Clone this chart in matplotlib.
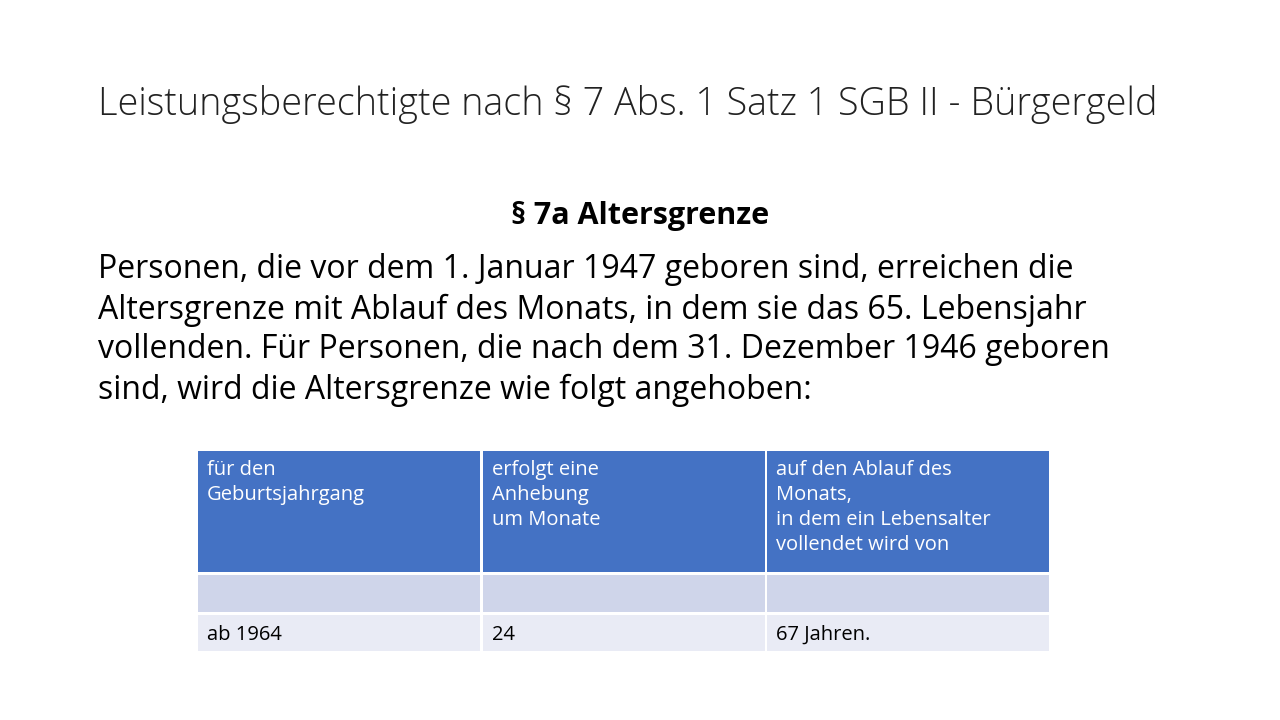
import matplotlib.pyplot as plt
from matplotlib.patches import Rectangle

title = "Leistungsberechtigte nach § 7 Abs. 1 Satz 1 SGB II - Bürgergeld"
subtitle = "§ 7a Altersgrenze"
body = ["Personen, die vor dem 1. Januar 1947 geboren sind, erreichen die",
        "Altersgrenze mit Ablauf des Monats, in dem sie das 65. Lebensjahr",
        "vollenden. Für Personen, die nach dem 31. Dezember 1946 geboren",
        "sind, wird die Altersgrenze wie folgt angehoben:"]
header = ["für den\nGeburtsjahrgang",
          "erfolgt eine\nAnhebung\num Monate",
          "auf den Ablauf des\nMonats,\nin dem ein Lebensalter\nvollendet wird von"]
rows = [["", "", ""],
        ["ab 1964", "24", "67 Jahren."]]

fig = plt.figure(figsize=(12.8, 7.2), dpi=100)
ax = fig.add_axes([0, 0, 1, 1])
ax.set_xlim(0, 1280)
ax.set_ylim(720, 0)
ax.axis('off')

font = 'Open Sans'
ax.text(98, 105, title, fontsize=27.2, family=font, fontweight='light', va='center', color='#222222')
ax.text(640, 216, subtitle, fontsize=22, family=font, fontweight='bold', ha='center', va='center')
for i, line in enumerate(body):
    ax.text(98, 270 + i * 40, line, fontsize=23, family=font, va='center')

col_x = [198, 483, 767]
col_w = 282
row_y = [(451, 121), (575, 37), (615, 36)]
fills = ['#4472C4', '#CFD5EA', '#E9EBF5']
cells = [header] + rows
for r, (y0, h) in enumerate(row_y):
    for c, x0 in enumerate(col_x):
        ax.add_patch(Rectangle((x0, y0), col_w, h, facecolor=fills[r], edgecolor='none'))
        txt = cells[r][c]
        color = 'white' if r == 0 else 'black'
        ty = y0 + 9 if r == 0 else y0 + h / 2 + 2
        ax.text(x0 + 9, ty, txt, fontsize=14.5, family=font, color=color,
                va='top' if r == 0 else 'center', linespacing=1.33)

fig.savefig('out.png', dpi=100, facecolor='white')
